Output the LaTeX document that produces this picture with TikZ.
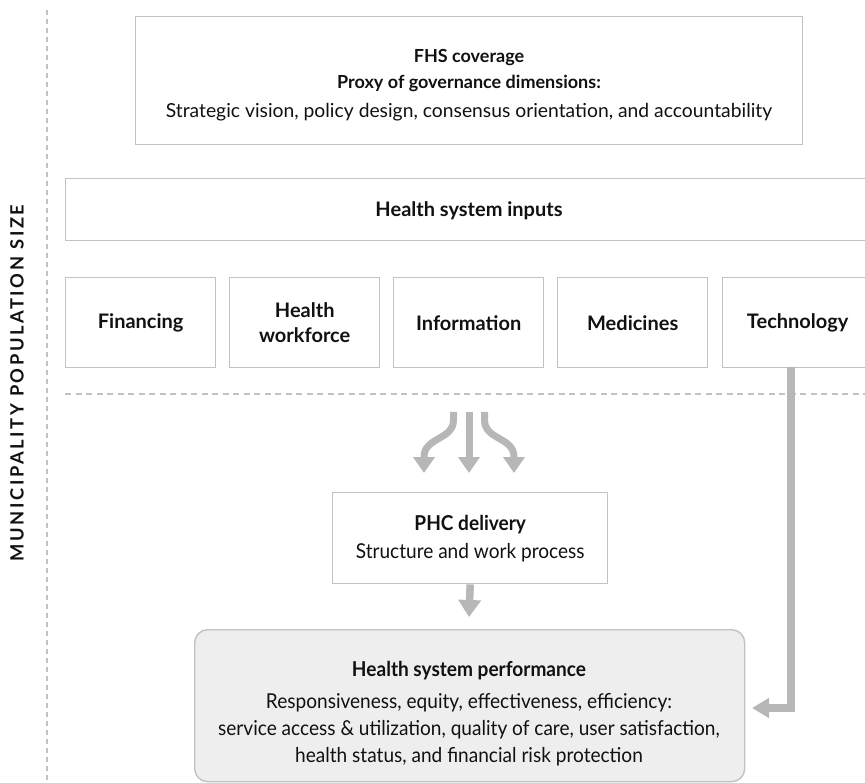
\documentclass[tikz,border=0pt]{standalone}
\usepackage{fontspec}
\setmainfont{Lato}
\newfontfamily\condfont[FakeStretch=0.93]{Lato}
\newfontfamily\spacedfont[LetterSpace=14]{Lato}
\usetikzlibrary{arrows.meta}

\definecolor{boxgray}{HTML}{C2C2C2}
\definecolor{arrowgray}{HTML}{B7B7B7}
\definecolor{perffill}{HTML}{EEEEEE}
\definecolor{ink}{HTML}{111111}

\tikzset{
  frame/.style={draw=boxgray, line width=1.4pt, fill=white, inner sep=0pt,
    align=center, text=ink},
  inputbox/.style={frame, minimum width=150pt, minimum height=90pt,
    anchor=north west, font=\bfseries\fontsize{20}{25}\selectfont},
  flow/.style={draw=arrowgray, line width=7.5pt,
    -{Triangle[width=22pt,length=17pt]}},
  splitflow/.style={flow, line width=7pt, -{Triangle[width=21pt,length=16pt]}},
  guide/.style={draw=boxgray, line width=1.3pt, dash pattern=on 6pt off 4.5pt},
  plain/.style={inner sep=0pt, align=center, text=ink},
  headline/.style={plain, font=\bfseries\fontsize{18}{22}\selectfont},
}

\begin{document}
\begin{tikzpicture}[x=1pt, y=-1pt]
\path[use as bounding box, clip] (0,0) rectangle (865,783);

% side axis
\draw[guide, dash pattern=on 5pt off 4pt] (47,10) -- (47,783);
\node[plain, rotate=90, font=\spacedfont\bfseries\fontsize{18.3}{20}\selectfont]
  (axis) at (17,383) {MUNICIPALITY POPULATION SIZE};

% governance box
\node[frame, anchor=north west, minimum width=667pt, minimum height=128pt]
  (fhs) at (135,16) {};
\node[headline] (fhstitle) at (469,58) {FHS coverage};
\node[headline] (fhssub) at (469,83) {Proxy of governance dimensions:};
\node[plain, font=\fontsize{19.3}{24}\selectfont] (fhsdims) at (469,112)
  {Strategic vision, policy design, consensus orientation, and accountability};

% inputs
\node[frame, anchor=north west, minimum width=815pt, minimum height=62pt]
  (inputs) at (65,178) {};
\node[plain, font=\bfseries\fontsize{20}{25}\selectfont] (inputstitle) at (469,211)
  {Health system inputs};

\node[inputbox] (fin)  at (65,277)  {Financing};
\node[inputbox] (work) at (229,277) {Health\\workforce};
\node[inputbox] (info) at (393,277) {Information};
\node[inputbox] (med)  at (557,277) {Medicines};
\node[inputbox] (tech) at (722,277) {Technology};

% level separator
\draw[guide] (65,394) -- (865,394);

% PHC delivery
\node[frame, anchor=north west, minimum width=275pt, minimum height=91pt,
  font=\condfont\fontsize{20.5}{28}\selectfont] (phc) at (332,492)
  {\textbf{PHC delivery}\\ Structure and work process};

% performance
\node[frame, fill=perffill, rounded corners=13pt, anchor=north west,
  minimum width=550pt, minimum height=152pt] (perf) at (194,629) {};
\node[plain, font=\condfont\fontsize{20.5}{27}\selectfont] (perftext) at (469,714)
  {\textbf{Health system performance}\\[5pt]
   Responsiveness, equity, effectiveness, efficiency:\\
   service access \& utilization, quality of care, user satisfaction,\\
   health status, and financial risk protection};

% arrows from inputs into delivery
\coordinate (srcL) at (453.5,412);
\coordinate (srcM) at (469,412);
\coordinate (srcR) at (484.5,412);
\coordinate (tipL) at (424,473);
\coordinate (tipM) at (469,473);
\coordinate (tipR) at (514,473);
\draw[splitflow]
  (srcL) -- (453.5,420) .. controls (453.5,440) and (424,437) .. (424,457) -- (tipL);
\draw[splitflow] (srcM) -- (tipM);
\draw[splitflow]
  (srcR) -- (484.5,420) .. controls (484.5,440) and (514,437) .. (514,457) -- (tipR);

% delivery to performance
\coordinate (perfin) at (469,617);
\draw[flow] (phc.south) -- (perfin);

% technology feedback
\coordinate (techout) at (791,367);
\coordinate (corner) at (791,708);
\coordinate (techtip) at (752,708);
\draw[flow, line width=8pt, -{Triangle[width=19pt,length=17pt]}]
  (techout) -- (corner) -- (techtip);
\end{tikzpicture}
\end{document}
